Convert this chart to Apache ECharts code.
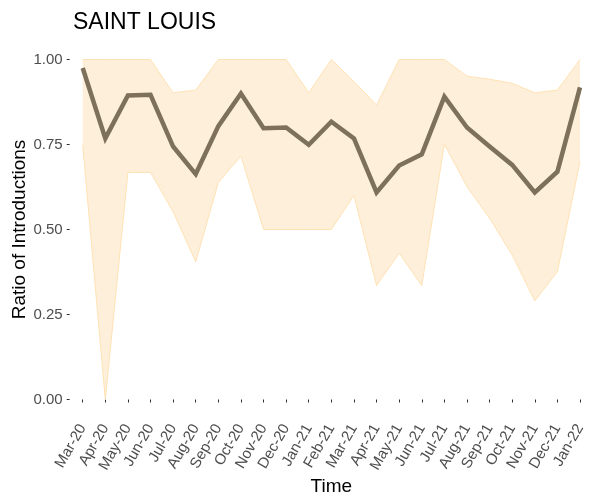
<!DOCTYPE html>
<html>
<head>
<meta charset="utf-8">
<script src="https://cdn.jsdelivr.net/npm/echarts@6/dist/echarts.min.js"></script>
<style>
  html, body { margin: 0; padding: 0; background: #fff; }
  #chart { width: 592px; height: 498px; }
</style>
</head>
<body>
<div id="chart"></div>
<script>
// months on the x axis
const months = ['Mar-20', 'Apr-20', 'May-20', 'Jun-20', 'Jul-20', 'Aug-20', 'Sep-20', 'Oct-20',
  'Nov-20', 'Dec-20', 'Jan-21', 'Feb-21', 'Mar-21', 'Apr-21', 'May-21', 'Jun-21', 'Jul-21',
  'Aug-21', 'Sep-21', 'Oct-21', 'Nov-21', 'Dec-21', 'Jan-22']
// ratio of introductions (line)
const ratio = [0.975, 0.768, 0.894, 0.896, 0.744, 0.663, 0.804, 0.900, 0.798, 0.800, 0.749, 0.817,
  0.768, 0.609, 0.688, 0.721, 0.891, 0.800, 0.744, 0.690, 0.609, 0.670, 0.918]
// ribbon bounds
const upper = [1, 1, 1, 1, 0.902, 0.910, 1, 1, 1, 1, 0.902, 1, 0.935, 0.866, 1, 1, 1, 0.951,
  0.942, 0.930, 0.902, 0.910, 1]
const lower = [0.749, 0, 0.668, 0.668, 0.552, 0.405, 0.638, 0.716, 0.500, 0.500, 0.500, 0.500,
  0.600, 0.335, 0.430, 0.335, 0.751, 0.626, 0.533, 0.425, 0.290, 0.376, 0.700]
// y tick values
const yTicks = [0, 0.25, 0.5, 0.75, 1]

const font = 'Liberation Sans, Arial, Helvetica, sans-serif'
const band = upper.map((u, i) => +(u - lower[i]).toFixed(4))

const chart = echarts.init(document.getElementById('chart'))
const option = {
  animation: false,
  title: {
    text: 'SAINT LOUIS',
    left: 68,
    top: 6,
    textStyle: { fontFamily: font, fontSize: 23, fontWeight: 'normal', color: '#000' }
  },
  grid: { left: 82.7, right: 12, top: 59.5, bottom: 98.5, outerBoundsMode: 'none', containLabel: false },
  xAxis: {
    type: 'category',
    data: months,
    boundaryGap: false,
    offset: 16,
    name: 'Time',
    nameLocation: 'middle',
    nameGap: 62,
    nameMoveOverlap: false,
    nameTextStyle: { fontFamily: font, fontSize: 19, color: '#000' },
    axisLine: { show: false },
    axisTick: { show: true, length: 3, interval: 0, lineStyle: { color: '#333' } },
    axisLabel: {
      interval: 0,
      rotate: 60,
      margin: 10,
      fontFamily: font,
      fontSize: 15,
      color: '#4d4d4d'
    },
    splitLine: { show: false }
  },
  yAxis: {
    type: 'value',
    min: yTicks[0],
    max: yTicks[yTicks.length - 1],
    interval: 0.25,
    offset: 13,
    name: 'Ratio of Introductions',
    nameLocation: 'middle',
    nameRotate: 90,
    nameGap: 40,
    nameMoveOverlap: false,
    nameTextStyle: { fontFamily: font, fontSize: 19, color: '#000' },
    axisLine: { show: false },
    axisTick: { show: true, length: 3, lineStyle: { color: '#333' } },
    axisLabel: {
      margin: 7,
      fontFamily: font,
      fontSize: 15,
      color: '#4d4d4d',
      formatter: v => v.toFixed(2)
    },
    splitLine: { show: false }
  },
  series: [
    {
      name: 'lower',
      type: 'line',
      stack: 'ci',
      data: lower,
      symbol: 'none',
      lineStyle: { color: '#FFE2B4', width: 1 },
      z: 1
    },
    {
      name: 'band',
      type: 'line',
      stack: 'ci',
      data: band,
      symbol: 'none',
      lineStyle: { color: '#FFE2B4', width: 1 },
      areaStyle: { color: '#FEEFDA', opacity: 1 },
      z: 1
    },
    {
      name: 'ratio',
      type: 'line',
      data: ratio,
      symbol: 'none',
      lineStyle: { color: '#7D715B', width: 4.5, cap: 'butt', join: 'miter' },
      z: 3
    }
  ]
}
chart.setOption(option)
</script>
</body>
</html>
